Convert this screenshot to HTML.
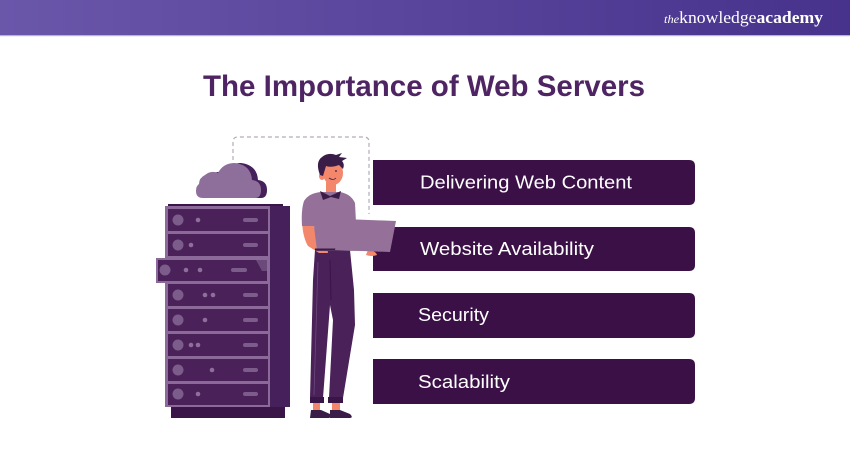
<!DOCTYPE html>
<html><head><meta charset="utf-8"><style>
html,body{margin:0;padding:0;background:#fff;}
svg{display:block;}
</style></head><body>
<svg width="850" height="450" viewBox="0 0 850 450" xmlns="http://www.w3.org/2000/svg">
<defs>
<linearGradient id="hg" x1="0" y1="0" x2="1" y2="0">
<stop offset="0" stop-color="#6a57aa"/>
<stop offset="1" stop-color="#47328c"/>
</linearGradient>
</defs>
<rect x="0" y="0" width="850" height="450" fill="#fff"/>
<!-- header -->
<rect x="0" y="0" width="850" height="36" fill="url(#hg)"/>
<rect x="0" y="35" width="850" height="1.2" fill="#b9b0dc"/>
<text x="664" y="23" font-family="Liberation Serif, serif" font-size="17" fill="#fff" textLength="159" lengthAdjust="spacingAndGlyphs"><tspan font-style="italic" font-size="12">the</tspan>knowledge<tspan font-weight="bold">academy</tspan></text>

<!-- title -->
<text x="203" y="96" font-family="Liberation Sans, sans-serif" font-weight="bold" font-size="30" fill="#4e2463" textLength="442" lengthAdjust="spacingAndGlyphs">The Importance of Web Servers</text>

<!-- dashed connector -->
<path d="M233,160 L233,142 Q233,137 238,137 L364,137 Q369,137 369,142 L369,214" fill="none" stroke="#b3abbb" stroke-width="1.2" stroke-dasharray="4 3"/>

<!-- boxes -->
<g fill="#3b1047">
<path d="M373,160 H689 Q695,160 695,166 V199 Q695,205 689,205 H373 Z"/>
<path d="M373,227 H689 Q695,227 695,233 V265 Q695,271 689,271 H373 Z"/>
<path d="M373,293 H689 Q695,293 695,299 V332 Q695,338 689,338 H373 Z"/>
<path d="M373,359 H689 Q695,359 695,365 V398 Q695,404 689,404 H373 Z"/>
</g>
<g font-family="Liberation Sans, sans-serif" font-size="18" fill="#fff">
<text x="420" y="188.5" textLength="212" lengthAdjust="spacingAndGlyphs">Delivering Web Content</text>
<text x="420" y="255" textLength="174" lengthAdjust="spacingAndGlyphs">Website Availability</text>
<text x="418" y="321" textLength="71" lengthAdjust="spacingAndGlyphs">Security</text>
<text x="418" y="388" textLength="92" lengthAdjust="spacingAndGlyphs">Scalability</text>
</g>

<!-- cloud -->
<g>
<path d="M203,198 H258 Q264,198 264,190 Q264,181 255,180 Q254,165 238,163 Q226,163 221,173 Q214,170 208,175 Q202,178 202,184 Q197,186 197,191 Q197,198 203,198 Z" fill="#45205a" transform="translate(3,0)"/>
<path d="M203,198 H255 Q261,198 261,190 Q261,181 252,180 Q251,165 235,163 Q223,163 218,173 Q211,170 205,175 Q199,178 199,184 Q196,186 196,191 Q196,198 203,198 Z" fill="#8e6f9c"/>
</g>

<!-- server rack -->
<rect x="168" y="204" width="115" height="4" fill="#3a1548"/>
<rect x="165" y="206" width="105" height="201" fill="#8b6a99"/>
<rect x="270" y="206" width="20" height="201" fill="#45205a"/>
<rect x="171" y="407" width="114" height="11" fill="#3a1548"/>
<g fill="#4a2158">
<rect x="168" y="209" width="100" height="22"/>
<rect x="168" y="234" width="100" height="22"/>
<rect x="168" y="284" width="100" height="22"/>
<rect x="168" y="309" width="100" height="22"/>
<rect x="168" y="334" width="100" height="22"/>
<rect x="168" y="359" width="100" height="22"/>
<rect x="168" y="384" width="100" height="21"/>
</g>
<!-- pulled out unit -->
<rect x="156" y="258" width="113" height="25" fill="#8b6a99"/>
<rect x="158" y="260" width="109" height="21" fill="#4a2158"/>
<path d="M256,260 L267,260 L267,271 L262,271 Z" fill="#6b4a7b"/>
<g fill="#7b5c8b">
<circle cx="178" cy="220" r="5.5"/>
<circle cx="178" cy="245" r="5.5"/>
<circle cx="165" cy="270" r="5.5"/>
<circle cx="178" cy="295" r="5.5"/>
<circle cx="178" cy="320" r="5.5"/>
<circle cx="178" cy="345" r="5.5"/>
<circle cx="178" cy="370" r="5.5"/>
<circle cx="178" cy="394" r="5.5"/>
<rect x="243" y="218" width="15" height="4" rx="2"/>
<rect x="243" y="243" width="15" height="4" rx="2"/>
<rect x="231" y="268" width="16" height="4" rx="2"/>
<rect x="243" y="293" width="15" height="4" rx="2"/>
<rect x="243" y="318" width="15" height="4" rx="2"/>
<rect x="243" y="343" width="15" height="4" rx="2"/>
<rect x="243" y="368" width="15" height="4" rx="2"/>
<rect x="243" y="392" width="15" height="4" rx="2"/>
</g>
<g fill="#8e6f9c">
<circle cx="198" cy="220" r="2.3"/>
<circle cx="191" cy="245" r="2.3"/>
<circle cx="186" cy="270" r="2.3"/>
<circle cx="200" cy="270" r="2.3"/>
<circle cx="205" cy="295" r="2.3"/>
<circle cx="213" cy="295" r="2.3"/>
<circle cx="205" cy="320" r="2.3"/>
<circle cx="191" cy="345" r="2.3"/>
<circle cx="198" cy="345" r="2.3"/>
<circle cx="212" cy="370" r="2.3"/>
<circle cx="198" cy="394" r="2.3"/>
</g>

<!-- person -->
<!-- trousers -->
<path d="M315,250 L350,250 L354,290 L355,325 L343,398 L329,398 L333,320 L330,305 L323,398 L310,398 L312,320 L313,280 Z" fill="#4a2158"/>
<path d="M318,262 L314,395" stroke="#6b4a7b" stroke-width="0.8" fill="none"/>
<path d="M330,260 L331,300" stroke="#3a1548" stroke-width="1" fill="none"/>
<!-- cuffs -->
<rect x="310" y="397" width="14" height="6" fill="#3a1548"/>
<rect x="328" y="397" width="15" height="6" fill="#3a1548"/>
<!-- ankles -->
<rect x="313" y="403" width="7" height="8" fill="#f2876c"/>
<rect x="332" y="403" width="8" height="8" fill="#f2876c"/>
<!-- shoes -->
<path d="M311,410 L321,410 L330,414 Q332,418 328,418 L310,418 Z" fill="#3a1c48"/>
<path d="M330,410 L340,410 L350,414 Q354,418 349,418 L330,418 Z" fill="#3a1c48"/>
<!-- neck -->
<rect x="326" y="182" width="10" height="12" fill="#f2876c"/>
<!-- left arm -->
<path d="M302,222 L313,222 L317,240 L327,246 L328,253 L319,253 L308,246 Q303,238 302,222 Z" fill="#f2876c"/>
<!-- shirt -->
<path d="M304,201 Q309,193 321,192 L340,192 Q351,194 355,203 L357,242 L350,251 L317,251 L314,226 L302,226 Q301,210 304,201 Z" fill="#957199"/>
<!-- collar -->
<path d="M320,191 L330,196 L341,191 L339,199 L331,197 L323,200 Z" fill="#3a1c48"/>
<!-- face -->
<ellipse cx="333" cy="173" rx="10" ry="12" fill="#f2876c"/>
<ellipse cx="322" cy="176" rx="3" ry="4" fill="#f2876c"/>
<path d="M329,178 Q333,181 336,178" stroke="#3a1c48" stroke-width="0.8" fill="none"/>
<circle cx="336" cy="171" r="0.9" fill="#3a1c48"/>
<!-- hair -->
<path d="M320,175 Q315,162 322,157 Q328,152 336,155 L342,153 L339,157 L347,158 L342,161 Q345,164 343,169 L339,165 Q331,168 326,166 L323,176 Z" fill="#3a1c48"/>
<!-- laptop base + hand -->
<path d="M368,250 Q376,251 377,255 Q372,257 366,255 Z" fill="#f2876c"/>
<rect x="315" y="248.5" width="60" height="2.2" fill="#3a1c48"/>
<!-- laptop -->
<polygon points="343,219 396,221 390,252 335,250" fill="#957199"/>
</svg>
</body></html>
